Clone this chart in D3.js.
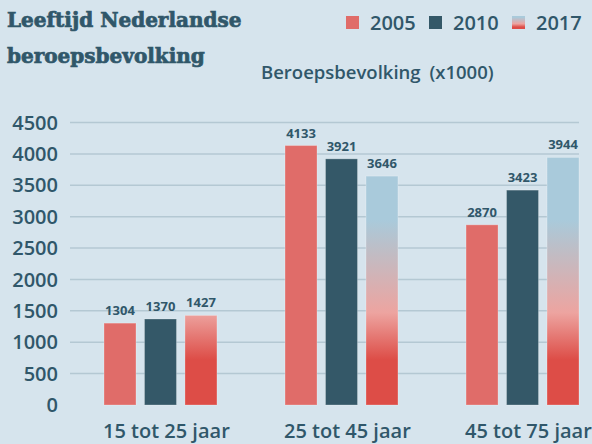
<!DOCTYPE html>
<html>
<head>
<meta charset="utf-8">
<script src="https://cdn.jsdelivr.net/npm/d3@7"></script>
<style>
  body { margin: 0; background: #d6e4ed; }
  svg { display: block; }
  text { fill: #30576a; font-family: "Open Sans", sans-serif; }
</style>
</head>
<body>
<svg class="chart"></svg>
<script>
'use strict'

// data
const groups = ['15 tot 25 jaar', '25 tot 45 jaar', '45 tot 75 jaar']
const years = ['2005', '2010', '2017']
const values2005 = [1304, 4133, 2870]
const values2010 = [1370, 3921, 3423]
const values2017 = [1427, 3646, 3944]
const yTicks = [0, 500, 1000, 1500, 2000, 2500, 3000, 3500, 4000, 4500]

const width = 592
const height = 444
const colors = { '2005': '#e06c69', '2010': '#345868', '2017': 'url(#grad2017)' }

const svg = d3.select('.chart')
  .attr('width', width)
  .attr('height', height)

const rows = years.map((yr, i) => ({
  year: yr,
  values: [values2005, values2010, values2017][i]
}))

const y = d3.scaleLinear().domain([0, 4500]).range([405, 122.5])
const x0 = d3.scaleBand().domain(groups).range([104, 579]).paddingInner(0.376)
const x1 = d3.scaleBand().domain(years).range([0, x0.bandwidth()]).paddingInner(0.21)

// gradient for the 2017 bars, fixed to the chart height
const defs = svg.append('defs')
const grad = defs.append('linearGradient')
  .attr('id', 'grad2017')
  .attr('gradientUnits', 'userSpaceOnUse')
  .attr('x1', 0).attr('x2', 0)
  .attr('y1', y(4500)).attr('y2', y(0))
const stops = [
  [2950, '#a9cadb'],
  [2450, '#bfbdc5'],
  [1470, '#eda4a0'],
  [720, '#dd4d47'],
  [0, '#dd4d47']
]
stops.forEach(s => {
  grad.append('stop')
    .attr('offset', (y(s[0]) - y(4500)) / (y(0) - y(4500)))
    .attr('stop-color', s[1])
})
const legGrad = defs.append('linearGradient')
  .attr('id', 'legGrad')
  .attr('x1', 0).attr('x2', 0).attr('y1', 0).attr('y2', 1)
legGrad.append('stop').attr('offset', 0.1).attr('stop-color', '#a9cadb')
legGrad.append('stop').attr('offset', 0.6).attr('stop-color', '#eda4a0')
legGrad.append('stop').attr('offset', 0.85).attr('stop-color', '#dd4d47')

// gridlines
svg.append('g')
  .selectAll('line')
  .data(yTicks.filter(d => d > 0))
  .enter()
  .append('line')
  .attr('x1', 70).attr('x2', 579)
  .attr('y1', d => y(d)).attr('y2', d => y(d))
  .attr('stroke', '#b4c8d3')
  .attr('stroke-width', 1.5)

// y tick labels
svg.append('g')
  .selectAll('text')
  .data(yTicks)
  .enter()
  .append('text')
  .attr('x', 58)
  .attr('y', d => y(d))
  .attr('dy', '0.36em')
  .attr('text-anchor', 'end')
  .style('font-size', '20px')
  .style('font-weight', 600)
  .text(d => d)

// bars
const bars = []
rows.forEach(r => r.values.forEach((v, i) => bars.push({ group: groups[i], year: r.year, value: v })))

svg.append('g')
  .selectAll('rect')
  .data(bars)
  .enter()
  .append('rect')
  .attr('x', d => x0(d.group) + x1(d.year))
  .attr('y', d => y(d.value))
  .attr('width', x1.bandwidth())
  .attr('height', d => y(0) - y(d.value))
  .attr('fill', d => colors[d.year])
  .attr('stroke', 'rgba(255,255,255,0.25)')
  .attr('stroke-width', 1)

// value labels
svg.append('g')
  .selectAll('text')
  .data(bars)
  .enter()
  .append('text')
  .attr('x', d => x0(d.group) + x1(d.year) + x1.bandwidth() / 2)
  .attr('y', d => y(d.value) - 8)
  .attr('text-anchor', 'middle')
  .style('font-size', '13px')
  .style('font-weight', 700)
  .text(d => d.value)

// category labels
svg.append('g')
  .selectAll('text')
  .data(groups)
  .enter()
  .append('text')
  .attr('x', d => x0(d) - 1)
  .attr('y', 438)
  .style('font-size', '20px')
  .style('font-weight', 600)
  .text(d => d)

// title (slab-like, thickened a bit with a stroke)
const title = svg.append('text')
  .style('font-family', '"DejaVu Serif", serif')
  .style('font-size', '20px')
  .style('font-weight', 700)
  .style('stroke', '#30576a')
  .style('stroke-width', 0.7)
title.append('tspan').attr('x', 7).attr('y', 27).text('Leeftijd Nederlandse')
title.append('tspan').attr('x', 7).attr('y', 63).text('beroepsbevolking')

// axis title
svg.append('text')
  .attr('x', 261)
  .attr('y', 79)
  .style('font-size', '18.5px')
  .style('font-weight', 600)
  .style('word-spacing', '4px')
  .text('Beroepsbevolking (x1000)')

// legend
const legX = [346, 429, 512]
const legend = svg.append('g')
  .selectAll('g')
  .data(years)
  .enter()
  .append('g')
  .attr('transform', (d, i) => `translate(${legX[i]},16)`)
legend.append('rect')
  .attr('width', 13).attr('height', 13)
  .attr('fill', d => d === '2017' ? 'url(#legGrad)' : colors[d])
legend.append('text')
  .attr('x', 24)
  .attr('y', 13.5)
  .style('font-size', '20px')
  .style('font-weight', 600)
  .text(d => d)
</script>
</body>
</html>
